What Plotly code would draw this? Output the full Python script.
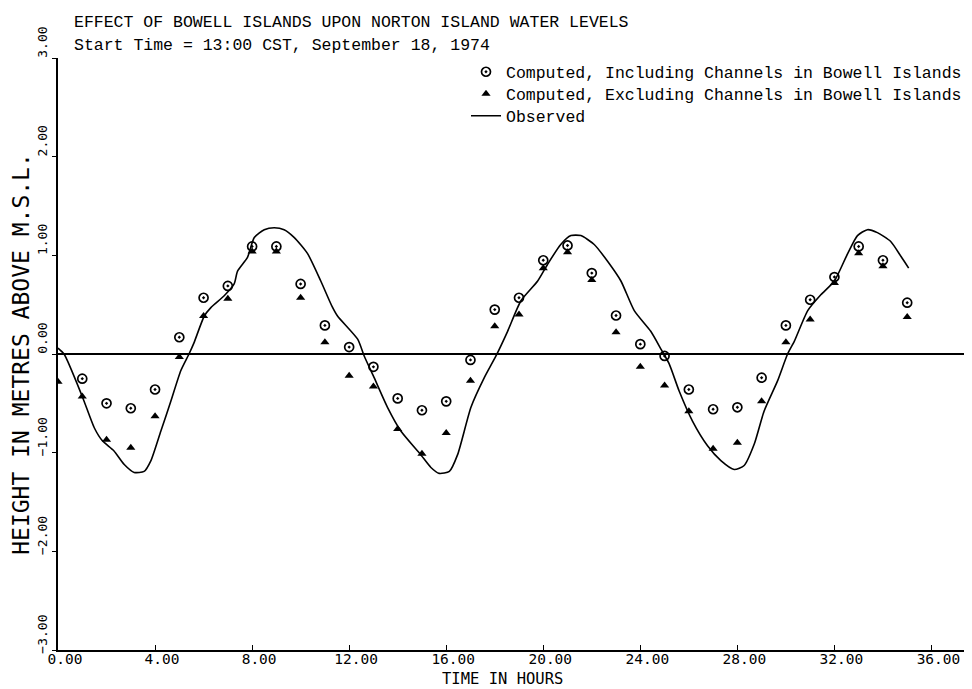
import plotly.graph_objects as go

# ---- data ----
hours_incl = list(range(1, 36))
level_incl = [-0.25, -0.50, -0.55, -0.36, 0.17, 0.57, 0.69, 1.09, 1.09, 0.71,
              0.29, 0.07, -0.13, -0.45, -0.57, -0.48, -0.06, 0.45, 0.57, 0.95,
              1.10, 0.82, 0.39, 0.10, -0.02, -0.36, -0.56, -0.54, -0.24, 0.29,
              0.55, 0.78, 1.09, 0.95, 0.52]

hours_excl = list(range(0, 36))
level_excl = [-0.28, -0.43, -0.87, -0.95, -0.63, -0.03, 0.385, 0.56, 1.04, 1.04,
              0.57, 0.12, -0.22, -0.33, -0.76, -1.01, -0.80, -0.27, 0.28, 0.40,
              0.87, 1.03, 0.75, 0.22, -0.13, -0.32, -0.58, -0.96, -0.90, -0.48,
              0.12, 0.35, 0.72, 1.02, 0.89, 0.375]

hours_obs = [0.0, 0.25, 1.0, 1.5, 1.83, 2.3, 2.73, 3.14, 3.55, 3.83, 4.24, 4.65,
             5.06, 5.4, 5.6, 6.03, 6.3, 6.85, 7.26, 7.4, 7.81, 8.09, 8.5, 8.91,
             9.32, 9.74, 10.28, 10.83, 11.3, 11.52, 12.35, 12.62, 13.03, 13.58,
             14.13, 14.95, 15.37, 15.71, 16.13, 16.47, 17.02, 17.57, 18.05, 18.53,
             19.08, 19.77, 20.18, 20.72, 21.14, 21.55, 22.1, 22.65, 23.2, 23.75,
             24.43, 24.85, 25.19, 25.6, 26.15, 26.77, 27.32, 27.87, 28.28, 28.7,
             29.1, 29.66, 30.07, 30.35, 30.9, 31.44, 32.0, 32.53, 32.95, 33.36,
             33.77, 34.32, 34.74, 35.06]
level_obs = [0.06, 0.0, -0.43, -0.75, -0.88, -0.98, -1.12, -1.20, -1.19, -1.08,
             -0.78, -0.48, -0.17, 0.0, 0.11, 0.385, 0.47, 0.59, 0.71, 0.84, 0.98,
             1.18, 1.26, 1.28, 1.26, 1.18, 1.02, 0.74, 0.48, 0.385, 0.15, -0.02,
             -0.24, -0.54, -0.78, -1.02, -1.15, -1.21, -1.19, -1.02, -0.54, -0.24,
             -0.02, 0.23, 0.54, 0.74, 0.91, 1.11, 1.20, 1.20, 1.11, 0.94, 0.74,
             0.44, 0.23, 0.05, -0.10, -0.375, -0.68, -0.93, -1.08, -1.17, -1.13,
             -0.91, -0.58, -0.27, 0.0, 0.13, 0.44, 0.60, 0.74, 1.01, 1.20, 1.26,
             1.23, 1.14, 0.99, 0.87]

x_ticks = [0, 4, 8, 12, 16, 20, 24, 28, 32, 36]
y_ticks = [-3, -2, -1, 0, 1, 2, 3]

title_lines = ["EFFECT OF BOWELL ISLANDS UPON NORTON ISLAND WATER LEVELS",
               "Start Time = 13:00 CST, September 18, 1974"]
x_title = "TIME IN HOURS"
y_title = "HEIGHT IN METRES ABOVE M.S.L."

TYPE_FONT = "Liberation Mono"
PLOT_FONT = "DejaVu Sans Mono"

# plot area geometry (pixels)
L, R, T, B = 50, 0, 50, 47
W, H = 972, 689
PW, PH = W - L - R, H - T - B


def py(ypix):
    """pixel row -> paper y"""
    return (H - B - ypix) / PH


def px(xpix):
    return (xpix - L) / PW


fig = go.Figure()
fig.add_trace(go.Scatter(
    x=hours_incl, y=level_incl, mode="markers",
    name="Computed, Including Channels in Bowell Islands", legend="legend",
    marker=dict(symbol="circle-open-dot", size=9, color="black",
                line=dict(width=1.7, color="black")),
))
fig.add_trace(go.Scatter(
    x=hours_excl, y=level_excl, mode="markers",
    name="Computed, Excluding Channels in Bowell Islands", legend="legend2",
    marker=dict(symbol="triangle-up", size=8, color="black"),
))
fig.add_trace(go.Scatter(
    x=hours_obs, y=level_obs, mode="lines", name="Observed", legend="legend3",
    line=dict(color="black", width=1.6, shape="spline", smoothing=0.6),
))

leg_common = dict(xanchor="left", yanchor="middle", x=px(458),
                  font=dict(family=TYPE_FONT, size=16.5, color="black"),
                  bgcolor="rgba(0,0,0,0)", itemwidth=30, borderwidth=0)

fig.update_layout(
    width=W, height=H,
    paper_bgcolor="white", plot_bgcolor="white",
    margin=dict(l=L, r=R, t=T, b=B),
    showlegend=True,
    legend=dict(y=py(64), **leg_common),
    legend2=dict(y=py(86), **leg_common),
    legend3=dict(y=py(108), **leg_common),
    xaxis=dict(
        range=[0, 38], tickvals=x_ticks, tickformat=".2f",
        showline=True, linecolor="black", linewidth=1.5,
        ticks="inside", ticklen=5, tickcolor="black",
        showgrid=False, zeroline=False,
        tickfont=dict(family=PLOT_FONT, size=14.5, color="black"),
        ticklabelshift=7, ticklabelstandoff=-5,
    ),
    yaxis=dict(
        range=[-3, 3], tickvals=y_ticks, tickformat=".2f",
        showline=True, linecolor="black", linewidth=1.5,
        ticks="outside", ticklen=4, tickcolor="black",
        showgrid=False, zeroline=True, zerolinecolor="black", zerolinewidth=1.5,
        tickangle=-90, ticklabelshift=-14,
        tickfont=dict(family=PLOT_FONT, size=13, color="black"),
        title=dict(text=y_title, standoff=2,
                   font=dict(family=PLOT_FONT, size=23, color="black")),
    ),
)

# title lines (typewriter text at the top left)
for txt, ycen in zip(title_lines, [14, 37]):
    fig.add_annotation(text=txt, xref="paper", yref="paper",
                       x=px(64), y=py(ycen), xanchor="left", yanchor="middle",
                       showarrow=False, align="left",
                       font=dict(family=TYPE_FONT, size=16.5, color="black"))

# x-axis title
fig.add_annotation(text=x_title, xref="paper", yref="paper",
                   x=px(494), y=py(671), xanchor="center", yanchor="middle",
                   showarrow=False, borderpad=0,
                   font=dict(family=PLOT_FONT, size=15.5, color="black"))

fig.write_html("out.html")
